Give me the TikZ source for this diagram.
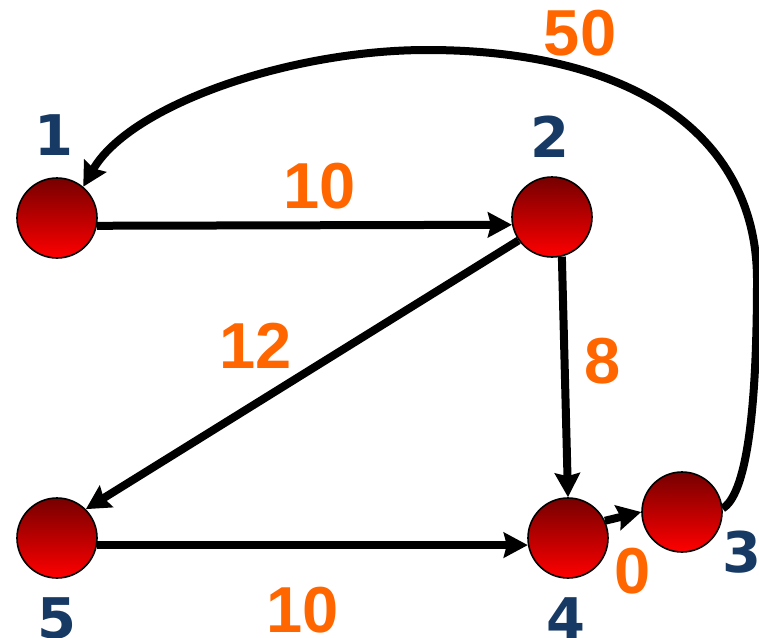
\documentclass[tikz,border=0pt]{standalone}
\usepackage{fontspec}
\setmainfont{Liberation Sans}
\newfontfamily\lblfont{DejaVu Sans}
\usetikzlibrary{arrows.meta}
\definecolor{wcol}{RGB}{255,102,0}
\definecolor{lcol}{RGB}{23,58,100}
\definecolor{ntop}{RGB}{118,0,0}
\definecolor{nbot}{RGB}{255,0,0}
\tikzset{
  vtx/.style={circle, draw=black, line width=1.6pt, minimum size=80pt, inner sep=0pt,
    top color=ntop, bottom color=nbot},
  edge/.style={line width=8pt, draw=black,
    -{Stealth[length=24pt,width=25pt,inset=3pt]}},
  wlab/.style={anchor=base, text=wcol, inner sep=0pt,
    font=\fontsize{65}{65}\selectfont\bfseries},
  nlab/.style={anchor=base, text=lcol, inner sep=0pt,
    font=\lblfont\fontsize{56}{56}\selectfont\bfseries},
}
\begin{document}
\begin{tikzpicture}[x=1pt,y=-1pt]
\useasboundingbox (0,0) rectangle (759,637);
% nodes
\node[vtx] (n1) at (57,218) {};
\node[vtx] (n2) at (552,217) {};
\node[vtx] (n3) at (682,512) {};
\node[vtx] (n4) at (568,538) {};
\node[vtx] (n5) at (57,538) {};
% node labels
\node[nlab] (l1) at (54,155) {1};
\node[nlab] (l2) at (550,157) {2};
\node[nlab] (l3) at (742,572) {3};
\node[nlab] (l4) at (566,638) {4};
\node[nlab] (l5) at (57,638) {5};
% edges
\draw[edge] (n1.-11) -- (n2.191);
\draw[edge] (n2.215) -- (n5.45);
\draw[edge] (n2.-76) -- (n4.north);
\draw[edge] (n5.-10) -- (n4.190);
\draw[edge] (n4.25) -- (n3.west);
\coordinate (c1) at (757,280);
\coordinate (c2) at (427,50);
\draw[edge] (n3.5) .. controls (745,495) and (757,420) .. (c1)
  .. controls (757,140) and (640,50) .. (c2)
  .. controls (290,50) and (130,105) .. (n1.50);
% weights
\node[wlab] (w50) at (580,55) {50};
\node[wlab] (w12a) at (320,208) {10};
\node[wlab] (w25) at (256,368) {12};
\node[wlab] (w24) at (603,383) {8};
\node[wlab] (w54) at (303,632) {10};
\node[wlab] (w43) at (633,593) {0};
\end{tikzpicture}
\end{document}
